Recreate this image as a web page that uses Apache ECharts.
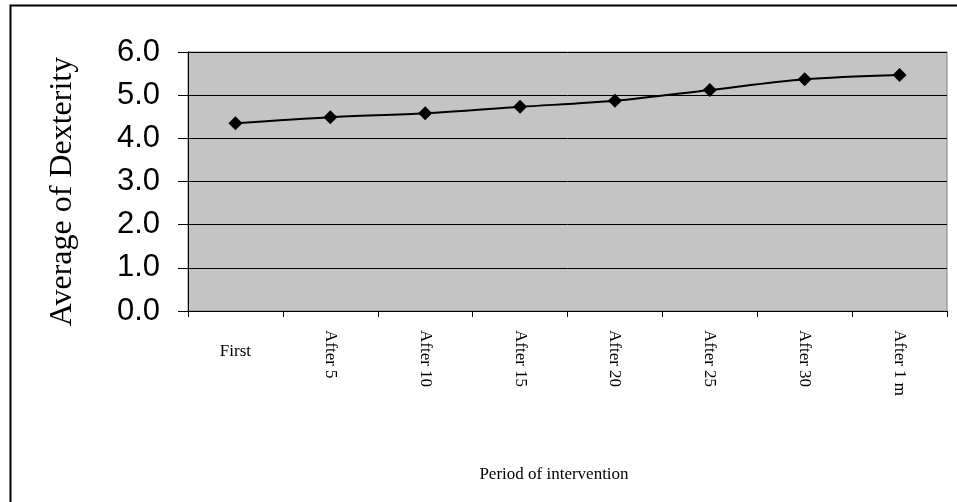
<!DOCTYPE html>
<html>
<head>
<meta charset="utf-8">
<script src="https://cdn.jsdelivr.net/npm/echarts@6/dist/echarts.min.js"></script>
<style>
html,body{margin:0;padding:0;background:#fff;}
#chart{width:957px;height:502px;}
</style>
</head>
<body>
<div id="chart"></div>
<script>
const categories = ['First','After 5','After 10','After 15','After 20','After 25','After 30','After 1 m'];
const dexterity = [4.35, 4.49, 4.58, 4.73, 4.87, 5.12, 5.37, 5.47];
const yTicks = [0, 1, 2, 3, 4, 5, 6];
const yAxisTitle = 'Average of Dexterity';
const xAxisTitle = 'Period of intervention';

const chart = echarts.init(document.getElementById('chart'));
const serif = '"Liberation Serif","Times New Roman",serif';
chart.setOption({
  animation: false,
  backgroundColor: '#ffffff',
  graphic: [{
    type: 'rect', left: 8, top: 3, z: 100,
    shape: {width: 1000, height: 600},
    style: {fill: 'none', stroke: '#000', lineWidth: 2}
  }],
  grid: {
    left: 188, right: 10, top: 52, bottom: 191,
    show: true, backgroundColor: '#c4c4c4', borderColor: '#808080', borderWidth: 1
  },
  xAxis: [{
    type: 'category', data: categories, boundaryGap: true,
    axisLine: {show: true, lineStyle: {color: '#000', width: 1}},
    axisTick: {show: true, length: 6, lineStyle: {color: '#000'}},
    axisLabel: {
      rotate: -90, margin: 19, interval: 0,
      fontFamily: serif, fontSize: 17, color: '#000',
      formatter: (v, i) => i === 0 ? '' : v
    },
    name: xAxisTitle, nameLocation: 'middle', nameGap: 155,
    nameTextStyle: {fontFamily: serif, fontSize: 17, color: '#000', padding: [0, 27, 0, 0]}
  }, {
    type: 'category', data: categories, boundaryGap: true, position: 'bottom',
    axisLine: {show: false}, axisTick: {show: false},
    axisLabel: {
      margin: 32, interval: 0, fontFamily: serif, fontSize: 17, color: '#000',
      formatter: (v, i) => i === 0 ? v : ''
    }
  }],
  yAxis: {
    type: 'value', min: yTicks[0], max: yTicks[yTicks.length - 1], interval: 1,
    axisLine: {show: true, lineStyle: {color: '#000'}},
    axisTick: {show: true, length: 10, lineStyle: {color: '#000'}},
    splitLine: {show: true, lineStyle: {color: '#000', width: 1}},
    axisLabel: {
      margin: 28, fontFamily: '"Liberation Sans",Arial,sans-serif', fontSize: 31, color: '#000',
      formatter: v => v.toFixed(1)
    },
    name: yAxisTitle, nameLocation: 'middle', nameGap: 109,
    nameTextStyle: {fontFamily: serif, fontSize: 32, color: '#000', padding: [0, 20, 0, 0]}
  },
  series: [{
    type: 'line', data: dexterity, xAxisIndex: 0, smooth: 0.3,
    symbol: 'diamond', symbolSize: 14,
    lineStyle: {color: '#000', width: 2},
    itemStyle: {color: '#000'}
  }]
});
</script>
</body>
</html>
